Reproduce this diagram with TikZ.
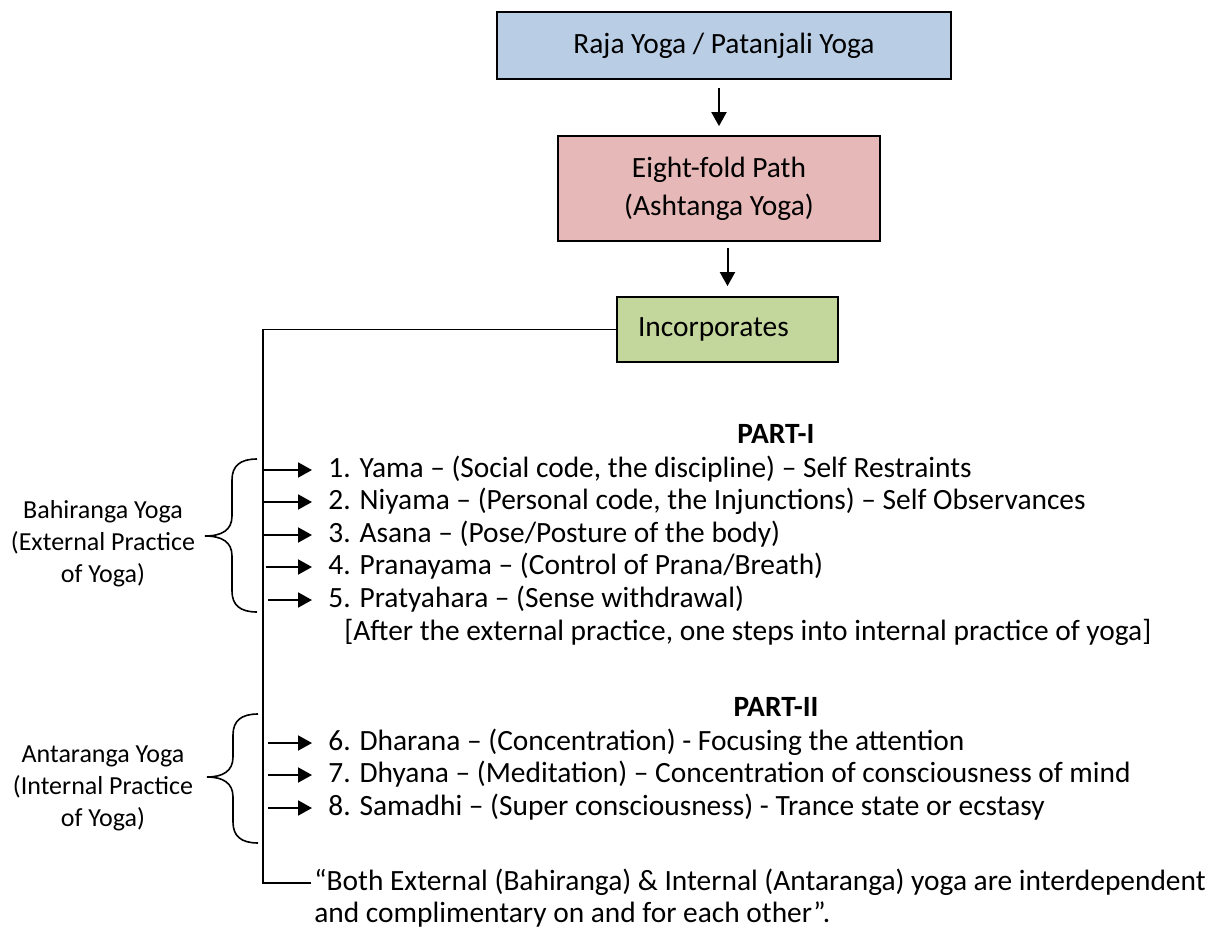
\documentclass[tikz,border=0pt]{standalone}
\usepackage{fontspec}
\setmainfont{Carlito}
\usetikzlibrary{arrows.meta}
\definecolor{boxblue}{RGB}{185,205,228}
\definecolor{boxpink}{RGB}{230,185,184}
\definecolor{boxgreen}{RGB}{195,214,155}
\begin{document}
\begin{tikzpicture}[x=0.5pt,y=-0.5pt,
  every node/.style={font=\fontsize{13}{16}\selectfont, inner sep=0pt},
  bigfont/.style={font=\fontsize{14.7}{16}\selectfont},
  box/.style={draw=black, line width=0.9pt, inner sep=0pt, bigfont},
  arr/.style={-{Triangle[length=7pt,width=7.5pt]}, line width=1pt},
  ln/.style={line width=0.9pt},
  item/.style={bigfont, anchor=west, inner xsep=8pt, inner ysep=0pt, text height=10pt, text depth=3pt},
  plain/.style={bigfont, anchor=west, text height=10pt, text depth=3pt},
  bold/.style={font=\fontsize{14.7}{16}\selectfont\bfseries},
  bracestyle/.style={line width=0.8pt}
]
\useasboundingbox (0,0) rectangle (1228,932);

% top boxes
\node[box, fill=boxblue, minimum width=227pt, minimum height=33.5pt] (raja) at (724,45.5) {Raja Yoga / Patanjali Yoga};
\node[box, fill=boxpink, minimum width=161pt, minimum height=52.5pt, align=center,
      font=\fontsize{14.7}{19}\selectfont] (eight) at (719,188.5) {Eight-fold Path\\(Ashtanga Yoga)};
\node[box, fill=boxgreen, minimum height=32.5pt, text width=89.5pt, inner xsep=10.5pt, align=left] (inc) at (727.5,329.5) {Incorporates};

\draw[arr, arr, shorten <=4pt, shorten >=4.5pt] (raja.south -| eight.north) -- (eight.north);
\draw[arr, shorten <=3pt, shorten >=5pt] (eight.south -| inc.north) -- (inc.north);

% part headings
\node[bold] (p1) at (776,434) {PART-I};
\node[bold] (p2) at (776,707) {PART-II};

% items
\node[item] (i1) at (312,470) {1. Yama – (Social code, the discipline) – Self Restraints};
\node[item] (i2) at (312,502) {2. Niyama – (Personal code, the Injunctions) – Self Observances};
\node[item] (i3) at (312,535) {3. Asana – (Pose/Posture of the body)};
\node[item] (i4) at (312,567) {4. Pranayama – (Control of Prana/Breath)};
\node[item] (i5) at (312,600) {5. Pratyahara – (Sense withdrawal)};
\node[plain] (after) at (344,633) {[After the external practice, one steps into internal practice of yoga]};
\node[item] (i6) at (312,743) {6. Dharana – (Concentration) - Focusing the attention};
\node[item] (i7) at (312,775) {7. Dhyana – (Meditation) – Concentration of consciousness of mind};
\node[item] (i8) at (312,808) {8. Samadhi – (Super consciousness) - Trance state or ecstasy};

\node[plain, inner xsep=1.5pt] (concl) at (311,883) {“Both External (Bahiranga) \& Internal (Antaranga) yoga are interdependent};
\node[plain] (concl2) at (314,915) {and complimentary on and for each other”.};

% spine
\coordinate (top) at (263,329.5);
\draw[ln] (inc.west) -- (top) -- (top |- concl.west) -- (concl.west);

\foreach \n in {i1,i2,i3}{
  \draw[arr, shorten <=0.5pt] (top |- \n.west) -- (\n.west);
}
\draw[arr, shorten <=1.5pt] (top |- i4.west) -- (i4.west);
\foreach \n in {i5,i6,i7,i8}{
  \draw[arr, shorten <=2.5pt] (top |- \n.west) -- (\n.west);
}

% side labels
\node[align=center] (bah) at (103,544) {Bahiranga Yoga\\(External Practice\\of Yoga)};
\node[align=center] (ant) at (103,788) {Antaranga Yoga\\(Internal Practice\\of Yoga)};

% braces
\draw[bracestyle] (257,459) .. controls (240,459) and (232,466) .. (232,480) -- (232,516)
  .. controls (232,530) and (222,536) .. (205,536)
  .. controls (222,536) and (232,542) .. (232,556) -- (232,591)
  .. controls (232,605) and (240,612) .. (257,612);
\draw[bracestyle] (258,714) .. controls (241,714) and (233,721) .. (233,735) -- (233,757)
  .. controls (233,771) and (223,777) .. (207,777)
  .. controls (223,777) and (233,783) .. (233,797) -- (233,822)
  .. controls (233,836) and (241,843) .. (258,843);
\end{tikzpicture}
\end{document}
